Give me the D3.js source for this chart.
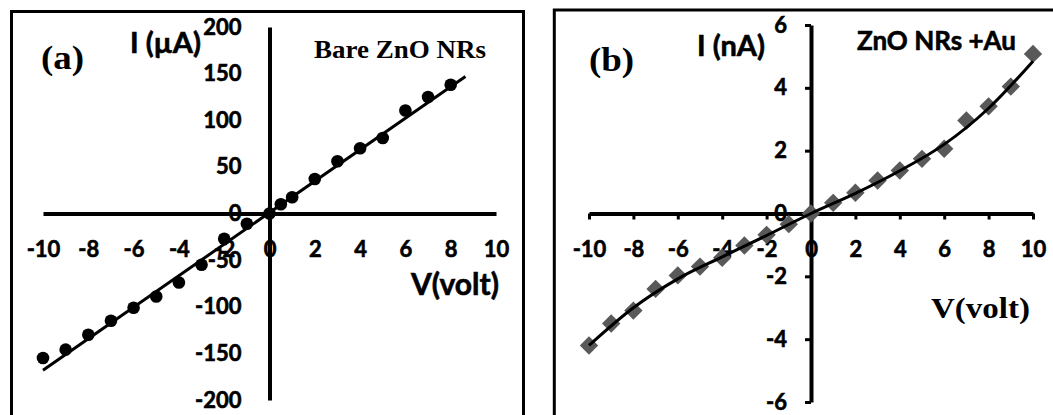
<!DOCTYPE html>
<html>
<head>
<meta charset="utf-8">
<script src="https://cdn.jsdelivr.net/npm/d3@7"></script>
<style>
  html, body { margin: 0; padding: 0; background: #fff; }
  svg { display: block; }
  .tick text { font-family: Lato, "Open Sans", sans-serif; font-weight: 700; font-size: 22px; fill: #000; stroke: #000; stroke-width: 0.6px; }
  .sans { font-family: Lato, "Open Sans", sans-serif; font-weight: 700; fill: #000; stroke: #000; stroke-width: 0.6px; }
  .serif { font-family: "Liberation Serif", "Times New Roman", serif; font-weight: 700; fill: #000; }
</style>
</head>
<body>
<svg id="chart" width="1053" height="415"></svg>
<script>
// Panel (a): bare ZnO nanorods, current in µA
const voltA = [-10, -9, -8, -7, -6, -5, -4, -3, -2, -1, 0, 0.5, 1, 2, 3, 4, 5, 6, 7, 8];
const currentA = [-155, -146, -130, -115, -101, -89, -74, -55, -27, -11, 0, 10, 17.5, 37, 56, 70, 81, 110.5, 125, 138];
const fitVoltA = [-10, 8.65];
const fitCurrentA = [-168, 147];
const xTicksA = [-10, -8, -6, -4, -2, 0, 2, 4, 6, 8, 10];
const yTicksA = [-200, -150, -100, -50, 0, 50, 100, 150, 200];

// Panel (b): ZnO nanorods with Au, current in nA
const voltB = [-10, -9, -8, -7, -6, -5, -4, -3, -2, -1, 0, 1, 2, 3, 4, 5, 6, 7, 8, 9, 10];
const currentB = [-4.2, -3.5, -3.09, -2.4, -1.97, -1.69, -1.41, -1.02, -0.68, -0.34, 0, 0.34, 0.66, 1.05, 1.37, 1.74, 2.06, 2.96, 3.41, 4.04, 5.08];
const fitVoltB = [-10, -8, -6, -4, -2, 0, 2, 4, 6, 8, 10];
const fitCurrentB = [-4.2, -3.0, -2.08, -1.38, -0.7, 0, 0.64, 1.36, 2.2, 3.35, 4.85];
const xTicksB = [-10, -8, -6, -4, -2, 0, 2, 4, 6, 8, 10];
const yTicksB = [-6, -4, -2, 0, 2, 4, 6];

const svg = d3.select("#chart");
// plain hyphen for negative numbers
const fmt = d => String(d);

function panel(cfg) {
  const g = svg.append("g");
  const x = d3.scaleLinear().domain(cfg.xDomain).range(cfg.xRange);
  const y = d3.scaleLinear().domain(cfg.yDomain).range(cfg.yRange);

  // frame
  g.append("rect")
    .attr("x", cfg.frame[0]).attr("y", cfg.frame[1])
    .attr("width", cfg.frame[2]).attr("height", cfg.frame[3])
    .attr("fill", "none").attr("stroke", "#000").attr("stroke-width", 3);

  // axes crossing at the origin
  const xAxis = d3.axisBottom(x).tickValues(cfg.xTicks)
    .tickSize(cfg.tickLen).tickSizeOuter(0).tickPadding(cfg.xPad)
    .tickFormat(fmt);
  const yAxis = d3.axisLeft(y).tickValues(cfg.yTicks)
    .tickSize(cfg.tickLen).tickSizeOuter(0).tickPadding(cfg.yPad)
    .tickFormat(fmt);

  const gx = g.append("g").attr("transform", `translate(0,${y(0)})`).call(xAxis);
  const gy = g.append("g").attr("transform", `translate(${x(0)},0)`).call(yAxis);
  [gx, gy].forEach(a => {
    a.select(".domain").attr("stroke", "#000").attr("stroke-width", 4);
    a.selectAll(".tick line").attr("stroke", "#000").attr("stroke-width", 3);
  });
  // axis lines over labels
  gx.select(".domain").raise();
  gy.select(".domain").raise();
  gy.raise();

  return { g, x, y };
}

// ---------- panel (a) ----------
const pa = panel({
  xDomain: [-10, 10], xRange: [43, 496],
  yDomain: [-200, 200], yRange: [400, 27],
  frame: [11.5, 11.5, 512, 420],
  xTicks: xTicksA, yTicks: yTicksA,
  tickLen: 0, xPad: 28, yPad: 28
});

pa.g.append("g").selectAll("circle")
  .data(voltA.map((v, i) => [v, currentA[i]]))
  .join("circle")
  .attr("cx", d => pa.x(d[0])).attr("cy", d => pa.y(d[1]))
  .attr("r", 6.3).attr("fill", "#000");

pa.g.append("path")
  .datum(fitVoltA.map((v, i) => [v, fitCurrentA[i]]))
  .attr("d", d3.line().x(d => pa.x(d[0])).y(d => pa.y(d[1])))
  .attr("fill", "none").attr("stroke", "#000").attr("stroke-width", 3);

pa.g.append("text").attr("class", "serif").attr("font-size", 33)
  .attr("transform", "translate(41,69) scale(1.12,1)").text("(a)");
pa.g.append("text").attr("class", "sans").attr("font-size", 29)
  .attr("x", 130).attr("y", 53).text("I (µA)");
pa.g.append("text").attr("class", "serif").attr("font-size", 25)
  .attr("transform", "translate(314,58) scale(1.08,1)").text("Bare ZnO NRs");
pa.g.append("text").attr("class", "sans").attr("font-size", 30)
  .attr("x", 411).attr("y", 295).text("V(volt)");

// ---------- panel (b) ----------
const pb = panel({
  xDomain: [-10, 10], xRange: [589, 1033],
  yDomain: [-6, 6], yRange: [402, 25],
  frame: [554.3, 10, 560, 420],
  xTicks: xTicksB, yTicks: yTicksB,
  tickLen: 6, xPad: 22, yPad: 18
});

pb.g.append("g").selectAll("rect")
  .data(voltB.map((v, i) => [v, currentB[i]]))
  .join("rect")
  .attr("x", -6.5).attr("y", -6.5).attr("width", 13).attr("height", 13)
  .attr("transform", d => `translate(${pb.x(d[0])},${pb.y(d[1])}) rotate(45)`)
  .attr("fill", "#595959");

pb.g.append("path")
  .datum(fitVoltB.map((v, i) => [v, fitCurrentB[i]]))
  .attr("d", d3.line().curve(d3.curveMonotoneX).x(d => pb.x(d[0])).y(d => pb.y(d[1])))
  .attr("fill", "none").attr("stroke", "#000").attr("stroke-width", 3);

pb.g.append("text").attr("class", "serif").attr("font-size", 33)
  .attr("transform", "translate(589,71) scale(1.12,1)").text("(b)");
pb.g.append("text").attr("class", "sans").attr("font-size", 29)
  .attr("x", 697).attr("y", 56).text("I (nA)");
pb.g.append("text").attr("class", "sans").attr("font-size", 26)
  .attr("x", 857).attr("y", 50).text("ZnO NRs +Au");
pb.g.append("text").attr("class", "serif").attr("font-size", 30)
  .attr("transform", "translate(931,318) scale(1.1,1)").text("V(volt)");
</script>
</body>
</html>
